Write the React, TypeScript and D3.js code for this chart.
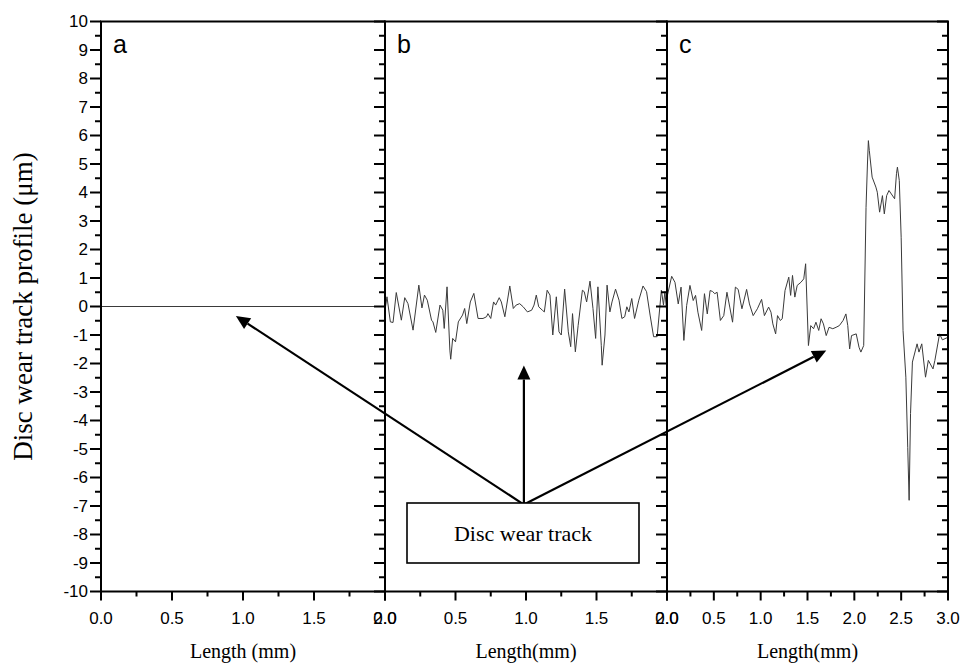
import React from "react";
import * as d3 from "d3";

const yTicks = d3.range(-10, 11, 1);
const yMinor = d3.range(-9.5, 10, 1);
const xTicksAB = [0, 0.5, 1.0, 1.5, 2.0];
const xMinorAB = [0.25, 0.75, 1.25, 1.75];
const xTicksC = [0, 0.5, 1.0, 1.5, 2.0, 2.5, 3.0];
const xMinorC = [0.25, 0.75, 1.25, 1.75, 2.25, 2.75];

const panelAProfile: [number, number][] = [[0, 0], [2, 0]];

const panelBProfile: [number, number][] = [
  [0, -0.13], [0.014, 0.34], [0.038, -0.54], [0.057, -0.56], [0.08, 0.49], [0.116, -0.48], [0.14, 0.31], [0.163, 0.1],
  [0.199, -0.83], [0.24, 0.75], [0.262, -0.05], [0.28, 0.4], [0.3, 0.22], [0.33, -0.48], [0.34, -0.54], [0.36, -0.91],
  [0.39, 0.05], [0.41, -0.13], [0.42, -0.77], [0.44, 0.69], [0.46, -1.53], [0.466, -1.85], [0.48, -1.12], [0.5, -1.24],
  [0.52, -0.54], [0.55, -0.3], [0.565, -0.07], [0.58, -0.6], [0.605, 0.16], [0.63, 0.46], [0.66, -0.42], [0.695, -0.42],
  [0.72, -0.36], [0.73, -0.25], [0.75, -0.42], [0.77, 0.16], [0.785, 0.05], [0.81, 0.31], [0.825, 0.16], [0.85, -0.36],
  [0.885, 0.72], [0.91, -0.07], [0.93, 0.05], [0.955, 0.1], [0.98, -0.01], [1.01, -0.19], [1.04, -0.13], [1.057, 0.05],
  [1.073, 0.4], [1.09, -0.01], [1.116, -0.13], [1.13, -0.19], [1.15, 0.57], [1.17, 0.4], [1.19, -1.0], [1.215, 0.34],
  [1.234, -0.89], [1.25, -1.0], [1.274, 0.61], [1.3, -0.89], [1.317, -1.41], [1.33, -0.25], [1.35, -1.59], [1.37, -0.66],
  [1.4, 0.57], [1.413, 0.52], [1.43, 0.16], [1.454, 0.89], [1.475, -0.07], [1.494, -1.12], [1.51, 0.69], [1.534, -1.36],
  [1.54, -2.06], [1.56, -1.0], [1.575, 0.75], [1.595, -0.19], [1.61, 0.16], [1.635, 0.61], [1.66, 0.22], [1.68, -0.42],
  [1.7, -0.36], [1.715, -0.01], [1.73, -0.19], [1.75, 0.28], [1.77, -0.42], [1.8, 0.22], [1.83, 0.72], [1.855, 0.52],
  [1.88, -0.3], [1.905, -1.06], [1.93, -1.06], [1.96, 0.57], [1.975, 0.05], [1.985, 0.52], [2.0, -0.3],
];

const panelCProfile: [number, number][] = [
  [0, 0.33], [0.05, 1.06], [0.085, 0.85], [0.12, 0.09], [0.15, 0.68], [0.18, -1.19], [0.21, 0.04], [0.245, 0.74],
  [0.28, 0.21], [0.305, 0.39], [0.33, -0.2], [0.37, -0.84], [0.4, 0.45], [0.43, -0.26], [0.46, 0.56], [0.485, 0.53],
  [0.51, 0.45], [0.535, 0.5], [0.57, -0.49], [0.606, -0.32], [0.64, 0.5], [0.67, -0.02], [0.7, -0.55], [0.73, 0.68],
  [0.76, 0.6], [0.8, -0.08], [0.85, 0.6], [0.88, 0.09], [0.92, -0.32], [0.965, -0.08], [1.01, 0.25], [1.04, -0.32],
  [1.085, -0.02], [1.11, -0.2], [1.13, -0.61], [1.16, -0.96], [1.18, -0.32], [1.21, -0.49], [1.23, -0.43], [1.26, 0.56],
  [1.3, 1.03], [1.32, 0.39], [1.34, 1.09], [1.365, 0.33], [1.39, 0.74], [1.43, 0.85], [1.46, 0.97], [1.48, 1.5],
  [1.51, -1.37], [1.535, -0.67], [1.565, -0.78], [1.59, -0.55], [1.62, -0.84], [1.645, -0.43], [1.67, -0.61], [1.7, -1.02],
  [1.73, -0.73], [1.77, -0.78], [1.805, -0.73], [1.84, -0.67], [1.88, -0.49], [1.91, -0.26], [1.93, -0.67], [1.95, -1.49],
  [1.97, -1.02], [2.02, -0.96], [2.05, -1.43], [2.07, -1.6], [2.1, -1.37], [2.125, 3.48], [2.14, 5.0], [2.15, 5.82],
  [2.16, 5.47], [2.19, 4.54], [2.23, 4.19], [2.245, 4.01], [2.27, 3.31], [2.3, 3.89], [2.32, 3.25], [2.345, 3.89],
  [2.37, 4.07], [2.43, 3.78], [2.45, 4.66], [2.46, 4.89], [2.48, 4.42], [2.5, 2.43], [2.52, -0.84], [2.55, -2.48],
  [2.57, -4.94], [2.585, -6.8], [2.6, -3.75], [2.62, -1.95], [2.67, -1.31], [2.69, -1.6], [2.72, -1.31], [2.76, -2.48],
  [2.79, -1.89], [2.84, -2.19], [2.86, -1.89], [2.91, -0.96], [2.94, -1.17], [3.0, -1.08],
];

const panelLabels = ["a", "b", "c"];
const xTitles = ["Length (mm)", "Length(mm)", "Length(mm)"];
const yTitle = "Disc wear track profile (\u03bcm)";
const boxText = "Disc wear track";
// arrow targets in data coordinates of panels a, b, c
const arrowTargets: { panel: number; x: number; y: number }[] = [
  { panel: 0, x: 0.95, y: -0.33 },
  { panel: 1, x: 0.985, y: -2.07 },
  { panel: 2, x: 1.7, y: -1.54 },
];
const boxAnchor = { panel: 1, x: 0.985, y: -6.95 };

const TOP = 21.5;
const BOTTOM = 591.5;
const SANS = "Liberation Sans, Arial, sans-serif";
const SERIF = "Liberation Serif, Times New Roman, serif";

export default function App() {
  const y = d3.scaleLinear().domain([-10, 10]).range([BOTTOM, TOP]);
  const panels = [
    { x: d3.scaleLinear().domain([0, 2]).range([101, 385]), ticks: xTicksAB, minor: xMinorAB, data: panelAProfile },
    { x: d3.scaleLinear().domain([0, 2]).range([385, 667]), ticks: xTicksAB, minor: xMinorAB, data: panelBProfile },
    { x: d3.scaleLinear().domain([0, 3]).range([667, 948]), ticks: xTicksC, minor: xMinorC, data: panelCProfile },
  ];

  const ax = panels[boxAnchor.panel].x(boxAnchor.x);
  const ay = y(boxAnchor.y);

  const arrowHead = (x1: number, y1: number, x2: number, y2: number) => {
    const ang = Math.atan2(y2 - y1, x2 - x1);
    const L = 14, W = 6.5;
    const bx = x2 - L * Math.cos(ang), by = y2 - L * Math.sin(ang);
    const px = -Math.sin(ang) * W, py = Math.cos(ang) * W;
    return { pts: `${x2},${y2} ${bx + px},${by + py} ${bx - px},${by - py}`, bx, by };
  };

  return (
    <svg width={966} height={663} style={{ position: "absolute", left: 0, top: 0, background: "#fff" }}>
      <rect x={0} y={0} width={966} height={663} fill="#fff" />
      {panels.map((p, i) => {
        const line = d3.line<[number, number]>().x((d) => p.x(d[0])).y((d) => y(d[1]));
        const [x0, x1] = p.x.range();
        return (
          <g key={i}>
            <path d={line(p.data) || ""} fill="none" stroke="#3a3a3a" strokeWidth={1} />
            {yTicks.map((t) => (
              <line key={"ry" + t} x1={x1 - 11} x2={x1} y1={y(t)} y2={y(t)} stroke="#000" strokeWidth={2} />
            ))}
            {yMinor.map((t) => (
              <line key={"rym" + t} x1={x1 - 6} x2={x1} y1={y(t)} y2={y(t)} stroke="#000" strokeWidth={2} />
            ))}
            {p.ticks.map((t) => (
              <line key={"bx" + t} x1={p.x(t)} x2={p.x(t)} y1={BOTTOM} y2={BOTTOM + 9} stroke="#000" strokeWidth={2} />
            ))}
            {p.minor.map((t) => (
              <line key={"bxm" + t} x1={p.x(t)} x2={p.x(t)} y1={BOTTOM} y2={BOTTOM + 5} stroke="#000" strokeWidth={2} />
            ))}
            {p.ticks.map((t) => (
              <text key={"bl" + t} x={p.x(t)} y={624} textAnchor="middle" fontFamily={SANS} fontSize={17} fill="#000">
                {t.toFixed(1)}
              </text>
            ))}
            <text x={(x0 + x1) / 2} y={658} textAnchor="middle" fontFamily={SERIF} fontSize={20} fill="#000">
              {xTitles[i]}
            </text>
            <text x={x0 + 12} y={53} fontFamily={SANS} fontSize={25} fill="#000">
              {panelLabels[i]}
            </text>
            <rect x={x0} y={TOP} width={x1 - x0} height={BOTTOM - TOP} fill="none" stroke="#000" strokeWidth={2} />
          </g>
        );
      })}
      {yTicks.map((t) => (
        <g key={"ly" + t}>
          <line x1={90} x2={101} y1={y(t)} y2={y(t)} stroke="#000" strokeWidth={2} />
          <text x={88} y={y(t)} dy="0.35em" textAnchor="end" fontFamily={SANS} fontSize={17} fill="#000">
            {t}
          </text>
        </g>
      ))}
      {yMinor.map((t) => (
        <line key={"lym" + t} x1={95} x2={101} y1={y(t)} y2={y(t)} stroke="#000" strokeWidth={2} />
      ))}
      <text
        transform={`translate(32,${(TOP + BOTTOM) / 2}) rotate(-90)`}
        textAnchor="middle"
        fontFamily={SERIF}
        fontSize={27}
        fill="#000"
      >
        {yTitle}
      </text>
      {arrowTargets.map((a, i) => {
        const tx = panels[a.panel].x(a.x);
        const ty = y(a.y);
        const h = arrowHead(ax, ay, tx, ty);
        return (
          <g key={"ar" + i}>
            <line x1={ax} y1={ay} x2={h.bx} y2={h.by} stroke="#000" strokeWidth={2.2} />
            <polygon points={h.pts} fill="#000" />
          </g>
        );
      })}
      <rect x={407} y={503} width={232} height={60} fill="#fff" stroke="#000" strokeWidth={1.6} />
      <text x={523} y={541} textAnchor="middle" fontFamily={SERIF} fontSize={22} fill="#000">
        {boxText}
      </text>
    </svg>
  );
}
